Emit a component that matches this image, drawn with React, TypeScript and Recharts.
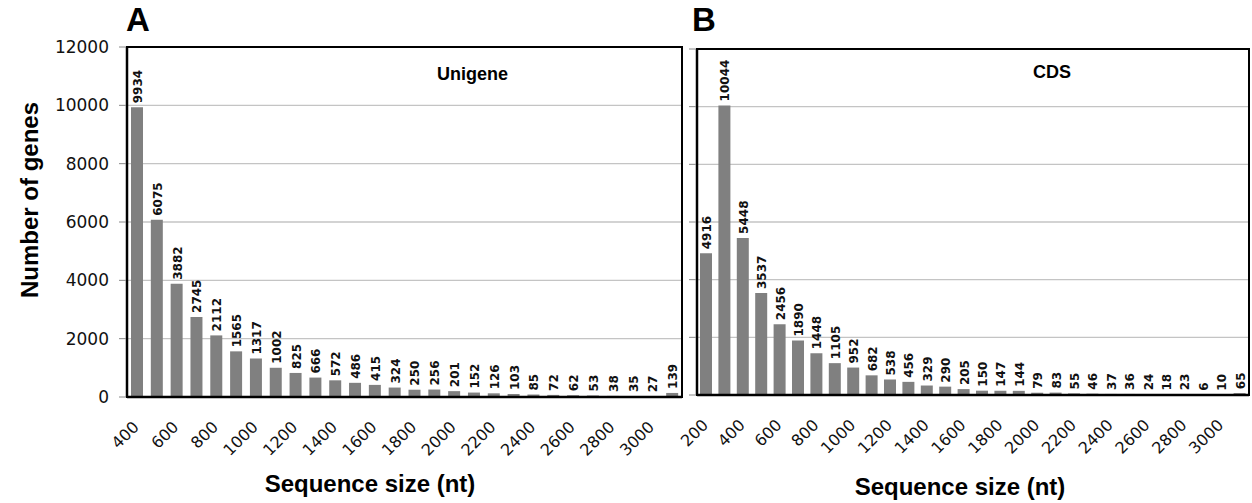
import React from "react";
import { BarChart, Bar, XAxis, YAxis, CartesianGrid, LabelList } from "recharts";

const unigeneSizes = ["400", "500", "600", "700", "800", "900", "1000", "1100", "1200", "1300", "1400", "1500", "1600", "1700", "1800", "1900", "2000", "2100", "2200", "2300", "2400", "2500", "2600", "2700", "2800", "2900", "3000", ">3000"];
const unigeneCounts = [9934, 6075, 3882, 2745, 2112, 1565, 1317, 1002, 825, 666, 572, 486, 415, 324, 250, 256, 201, 152, 126, 103, 85, 72, 62, 53, 38, 35, 27, 139];

const cdsSizes = ["200", "300", "400", "500", "600", "700", "800", "900", "1000", "1100", "1200", "1300", "1400", "1500", "1600", "1700", "1800", "1900", "2000", "2100", "2200", "2300", "2400", "2500", "2600", "2700", "2800", "2900", "3000", ">3000"];
const cdsCounts = [4916, 10044, 5448, 3537, 2456, 1890, 1448, 1105, 952, 682, 538, 456, 329, 290, 205, 150, 147, 144, 79, 83, 55, 46, 37, 36, 24, 18, 23, 6, 10, 65];

const yTicks = [0, 2000, 4000, 6000, 8000, 10000, 12000];

const FONT = "'DejaVu Sans', sans-serif";
const TITLE_FONT = "'Liberation Sans', Arial, sans-serif";

const unigeneData = unigeneSizes.map((size, i) => ({ size, count: unigeneCounts[i] }));
const cdsData = cdsSizes.map((size, i) => ({ size, count: cdsCounts[i] }));

function DiagTick(props: any) {
  const { x, y, payload } = props;
  const tx = x + 3;
  const ty = y + 23;
  return (
    <text
      x={tx}
      y={ty}
      transform={`rotate(-45 ${tx} ${ty})`}
      textAnchor="end"
      fontSize={16}
      fontFamily={FONT}
      fill="#111"
    >
      {payload.value}
    </text>
  );
}

function ValueLabel(props: any) {
  const { x, y, width, value } = props;
  const cx = x + width / 2 + 1;
  const cy = y - 4;
  return (
    <text
      x={cx}
      y={cy}
      transform={`rotate(-90 ${cx} ${cy})`}
      textAnchor="start"
      dominantBaseline="central"
      fontSize={12}
      fontWeight="bold"
      fontFamily={FONT}
      fill="#111"
    >
      {value}
    </text>
  );
}

type Margin = { top: number; right: number; bottom: number; left: number };

function Panel({
  data,
  width,
  margin,
  yWidth,
  showYLabels,
}: {
  data: { size: string; count: number }[];
  width: number;
  margin: Margin;
  yWidth: number;
  showYLabels: boolean;
}) {
  const height = 503;
  // frame around the plot area, like the boxed Excel chart
  const frame: React.CSSProperties = {
    position: "absolute",
    left: margin.left + yWidth - 1,
    top: margin.top - 1,
    width: width - margin.left - yWidth - margin.right + 2,
    height: height - margin.top - margin.bottom - 60 + 2,
    border: "2.5px solid #000",
    boxSizing: "border-box",
    pointerEvents: "none",
  };
  return (
    <div style={{ position: "relative", width, height }}>
      <BarChart width={width} height={height} data={data} margin={margin} barSize={12}>
        <CartesianGrid vertical={false} stroke="#c4c4c4" strokeWidth={1.3} />
        <XAxis
          dataKey="size"
          interval={1}
          tick={<DiagTick />}
          tickLine={false}
          axisLine={{ stroke: "#000", strokeWidth: 2.5 }}
          height={60}
        />
        <YAxis
          domain={[0, 12000]}
          ticks={yTicks}
          width={yWidth}
          tickSize={8}
          tickMargin={10}
          tickLine={{ stroke: "#888" }}
          tickFormatter={(v: number) => (showYLabels ? String(v) : "")}
          tick={{ fontSize: 17, fill: "#111", fontFamily: FONT }}
          axisLine={{ stroke: "#000", strokeWidth: 2.5 }}
        />
        <Bar dataKey="count" fill="#808080" isAnimationActive={false}>
          <LabelList dataKey="count" content={<ValueLabel />} />
        </Bar>
      </BarChart>
      <div style={frame} />
    </div>
  );
}

export default function App() {
  const abs = (left: number, top: number): React.CSSProperties => ({ position: "absolute", left, top });
  return (
    <div style={{ position: "absolute", left: 0, top: 0, width: 1252, height: 503, background: "#fff", overflow: "hidden" }}>
      <div style={abs(0, 0)}>
        <Panel
          data={unigeneData}
          width={690}
          margin={{ top: 47, right: 8, bottom: 46, left: 67 }}
          yWidth={60}
          showYLabels={true}
        />
      </div>
      <div style={abs(640, 0)}>
        <Panel
          data={cdsData}
          width={612}
          margin={{ top: 49, right: 3, bottom: 48, left: 49 }}
          yWidth={8}
          showYLabels={false}
        />
      </div>

      <div style={{ ...abs(126, 2), fontFamily: TITLE_FONT, fontWeight: "bold", fontSize: 33, lineHeight: "36px" }}>A</div>
      <div style={{ ...abs(692, 2), fontFamily: TITLE_FONT, fontWeight: "bold", fontSize: 33, lineHeight: "36px" }}>B</div>

      <div style={{ ...abs(437, 63), fontFamily: TITLE_FONT, fontWeight: "bold", fontSize: 18, lineHeight: "22px" }}>Unigene</div>
      <div style={{ ...abs(1033, 61), fontFamily: TITLE_FONT, fontWeight: "bold", fontSize: 18, lineHeight: "22px" }}>CDS</div>

      <div
        style={{
          position: "absolute",
          left: 30,
          top: 200,
          transform: "translate(-50%, -50%) rotate(-90deg)",
          fontFamily: TITLE_FONT,
          fontWeight: "bold",
          fontSize: 24,
          whiteSpace: "nowrap",
        }}
      >
        Number of genes
      </div>
      <div
        style={{
          position: "absolute",
          left: 370,
          top: 484,
          transform: "translate(-50%, -50%)",
          fontFamily: TITLE_FONT,
          fontWeight: "bold",
          fontSize: 24,
          whiteSpace: "nowrap",
        }}
      >
        Sequence size (nt)
      </div>
      <div
        style={{
          position: "absolute",
          left: 960,
          top: 487,
          transform: "translate(-50%, -50%)",
          fontFamily: TITLE_FONT,
          fontWeight: "bold",
          fontSize: 24,
          whiteSpace: "nowrap",
        }}
      >
        Sequence size (nt)
      </div>
    </div>
  );
}
